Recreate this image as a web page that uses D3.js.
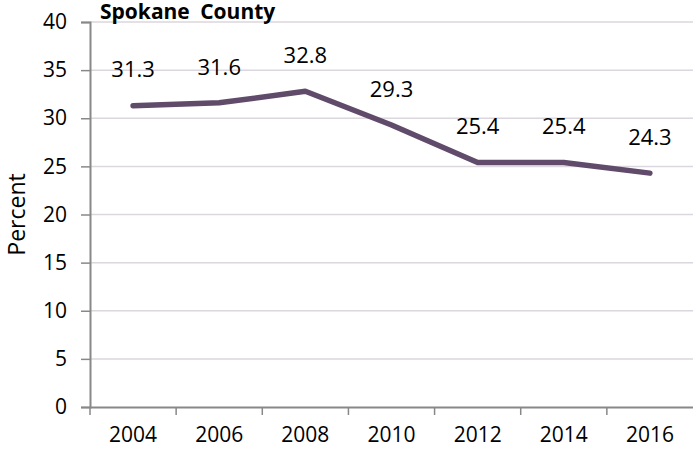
<!DOCTYPE html>
<html>
<head>
<meta charset="utf-8">
<script src="https://cdn.jsdelivr.net/npm/d3@7"></script>
<style>
  html, body { margin: 0; padding: 0; background: #ffffff; }
  svg { display: block; }
  text { font-family: "Open Sans", "Liberation Sans", sans-serif; fill: #000; }
</style>
</head>
<body>
<svg id="chart" width="693" height="455"></svg>
<script>
// Spokane County trend, percent by survey year
const years = ["2004", "2006", "2008", "2010", "2012", "2014", "2016"];
const percents = [31.3, 31.6, 32.8, 29.3, 25.4, 25.4, 24.3];
const yTicks = [0, 5, 10, 15, 20, 25, 30, 35, 40];

const chartTitle = "Spokane County";
const yTitle = "Percent";

const svg = d3.select("#chart");
const margin = { left: 90, right: 0, top: 22, bottom: 48 };
const W = 693, H = 455;

const x = d3.scaleBand().domain(years).range([margin.left, W - margin.right]).padding(0);
const y = d3.scaleLinear().domain([0, 40]).range([H - margin.bottom, margin.top]);

// horizontal gridlines
svg.append("g")
  .selectAll("line")
  .data(yTicks.filter(d => d > 0))
  .join("line")
  .attr("x1", margin.left).attr("x2", W - margin.right)
  .attr("y1", d => y(d)).attr("y2", d => y(d))
  .attr("stroke", "#dcd6de").attr("stroke-width", 1.5);

// y axis
const yAxis = svg.append("g")
  .attr("transform", `translate(${margin.left},0)`)
  .call(d3.axisLeft(y).tickValues(yTicks).tickSize(9).tickPadding(14));
yAxis.select(".domain").attr("stroke", "#888").attr("stroke-width", 2);
yAxis.selectAll(".tick line").attr("stroke", "#888").attr("stroke-width", 1.5);
yAxis.selectAll(".tick text").attr("font-size", 21).attr("fill", "#000")
  .attr("font-family", "'Open Sans', sans-serif");

// x axis with tick marks on category boundaries
const xAxisG = svg.append("g")
  .attr("transform", `translate(0,${y(0)})`)
  .call(d3.axisBottom(x).tickSize(0).tickPadding(20));
xAxisG.select(".domain").attr("stroke", "#888").attr("stroke-width", 2);
xAxisG.selectAll(".tick text").attr("font-size", 21).attr("fill", "#000")
  .attr("font-family", "'Open Sans', sans-serif");
xAxisG.selectAll(".boundary")
  .data(years)
  .join("line")
  .attr("class", "boundary")
  .attr("x1", d => x(d)).attr("x2", d => x(d))
  .attr("y1", 0).attr("y2", 8)
  .attr("stroke", "#888").attr("stroke-width", 1.5);

// trend line
const line = d3.line()
  .x((d, i) => x(years[i]) + x.bandwidth() / 2)
  .y(d => y(d));

svg.append("path")
  .datum(percents)
  .attr("d", line)
  .attr("fill", "none")
  .attr("stroke", "#614b6b")
  .attr("stroke-width", 5.5)
  .attr("stroke-linecap", "round")
  .attr("stroke-linejoin", "round");

// value labels
svg.append("g")
  .selectAll("text")
  .data(percents)
  .join("text")
  .attr("x", (d, i) => x(years[i]) + x.bandwidth() / 2)
  .attr("y", d => y(d) - 36)
  .attr("dy", "0.35em")
  .attr("text-anchor", "middle")
  .attr("font-size", 22)
  .text(d => d.toFixed(1));

// chart title
svg.append("text")
  .attr("x", 100).attr("y", 19)
  .attr("font-size", 21)
  .attr("font-weight", "bold")
  .attr("word-spacing", 5)
  .text(chartTitle);

// y axis title
svg.append("text")
  .attr("transform", `translate(17,${(y(0) + y(40)) / 2}) rotate(-90)`)
  .attr("text-anchor", "middle")
  .attr("dy", "0.35em")
  .attr("font-size", 23)
  .text(yTitle);
</script>
</body>
</html>
